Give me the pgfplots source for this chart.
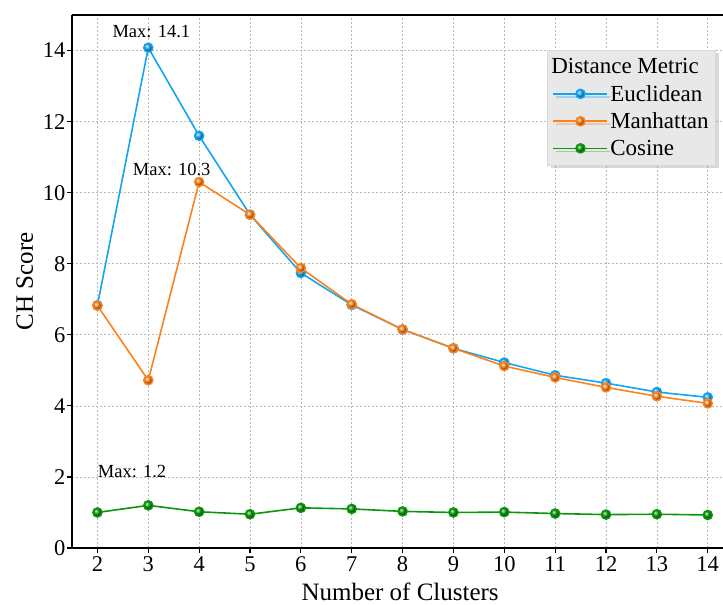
\documentclass[border=0pt]{standalone}
\usepackage{fontspec}
\setmainfont{Liberation Serif}
\usepackage{pgfplots}
\pgfplotsset{compat=1.18}
\usetikzlibrary{shadows}

\definecolor{euc}{RGB}{20,165,240}
\definecolor{man}{RGB}{252,130,28}
\definecolor{cos}{RGB}{10,150,10}

\begin{document}
\begin{tikzpicture}
  \begin{axis}[
    scale only axis,
    width=651pt, height=533pt,
    xmin=1.5, xmax=14.3,
    ymin=0, ymax=15,
    xtick={2,...,14},
    ytick={0,2,...,14},
    axis x line*=box,
    axis y line*=left,
    xtick pos=left,
    axis line style={line width=1.6pt},
    tick align=outside,
    major tick length=5pt,
    tick style={black, line width=1.2pt},
    grid=major,
    grid style={gray!55, line width=0.6pt, dash pattern=on 2pt off 2pt},
    /pgf/number format/assume math mode=true,
    tick label style={font=\fontsize{22.5}{22.5}\selectfont},
    yticklabel style={xshift=2pt},
    label style={font=\fontsize{25}{25}\selectfont},
    xlabel={Number of Clusters},
    ylabel={CH Score},
    xlabel style={at={(axis description cs:0.504,-0.099)}, anchor=base, inner sep=0pt},
    ylabel style={at={(axis description cs:-0.06,0.5)}, anchor=base, inner sep=0pt},
    legend cell align=left,
    legend style={at={(rel axis cs:0.989,0.934)}, anchor=north east,
      fill=gray!18, draw=gray!30,
      drop shadow={opacity=0.3, shadow xshift=3pt, shadow yshift=-3pt},
      font=\fontsize{23}{23}\selectfont, row sep=6pt,
      inner xsep=5pt, inner ysep=6pt},
    legend image code/.code={\draw[mark repeat=2,mark phase=2]
      plot coordinates {(0pt,0pt) (27pt,0pt) (54pt,0pt)};},
    every axis plot/.append style={line width=1.6pt},
  ]
  \addlegendimage{empty legend}
  \addlegendentry{\hspace{-59pt}Distance Metric}

  \addplot[euc, mark=ball, mark size=4.5pt, mark options={ball color=euc}] coordinates {
    (2,6.83) (3,14.08) (4,11.6) (5,9.38) (6,7.74) (7,6.84) (8,6.15)
    (9,5.62) (10,5.22) (11,4.86) (12,4.64) (13,4.39) (14,4.24)
  };
  \addlegendentry{Euclidean}

  \addplot[man, mark=ball, mark size=4.5pt, mark options={ball color=man}] coordinates {
    (2,6.82) (3,4.72) (4,10.3) (5,9.38) (6,7.88) (7,6.86) (8,6.15)
    (9,5.62) (10,5.12) (11,4.8) (12,4.52) (13,4.27) (14,4.07)
  };
  \addlegendentry{Manhattan}

  \addplot[cos, mark=ball, mark size=4.5pt, mark options={ball color=cos}] coordinates {
    (2,1.0) (3,1.2) (4,1.02) (5,0.95) (6,1.13) (7,1.1) (8,1.03)
    (9,1.0) (10,1.01) (11,0.97) (12,0.94) (13,0.95) (14,0.93)
  };
  \addlegendentry{Cosine}

  \node[font=\fontsize{18.5}{18.5}\selectfont] at (axis cs:3.06,14.53) {Max: 14.1};
  \node[font=\fontsize{18.5}{18.5}\selectfont] at (axis cs:3.46,10.65) {Max: 10.3};
  \node[font=\fontsize{18.5}{18.5}\selectfont] at (axis cs:2.68,2.14) {Max: 1.2};
  \end{axis}
  \pgfresetboundingbox
  \path ([xshift=-72pt,yshift=-57pt]current axis.south west)
        rectangle ([yshift=15pt]current axis.north east);
\end{tikzpicture}
\end{document}
